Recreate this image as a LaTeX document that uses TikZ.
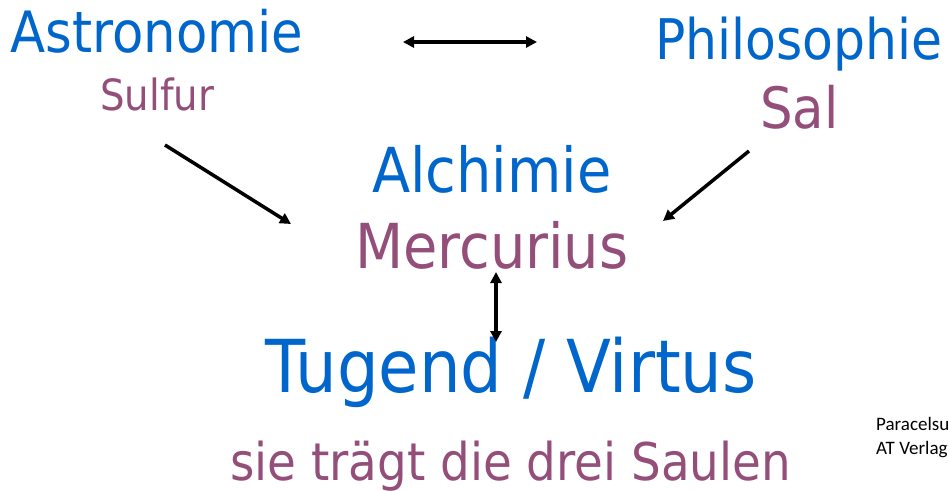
\documentclass[tikz,border=0pt]{standalone}
\usepackage{fontspec}
\setmainfont{DejaVu Sans}[FakeStretch=0.9]
\newfontfamily\calibri{Carlito}
\usetikzlibrary{arrows.meta}
\definecolor{vblue}{RGB}{0,102,204}
\definecolor{vpurple}{RGB}{148,78,122}
\tikzset{
  blue text/.style={text=vblue,inner sep=0pt,anchor=base west},
  purple text/.style={text=vpurple,inner sep=0pt,anchor=base west},
  arr/.style={-{Triangle[length=11pt,width=11pt]},line width=3.5pt},
  both arr/.style={{Triangle[length=11pt,width=11pt]}-{Triangle[length=11pt,width=11pt]},line width=3.5pt}
}
\begin{document}
\begin{tikzpicture}[x=1pt,y=-1pt]
      \useasboundingbox (0,0) rectangle (949,490);
      \node[blue text,font=\fontsize{57}{60}\selectfont] (astro) at (10,52) {Astronomie};
      \node[purple text,font=\fontsize{43}{46}\selectfont] (sulfur) at (100,110) {Sulfur};
      \node[blue text,font=\fontsize{56}{60}\selectfont] (philo) at (655,59) {Philosophie};
      \node[purple text,font=\fontsize{57}{60}\selectfont] (sal) at (760,128) {Sal};
      \node[blue text,font=\fontsize{62}{66}\selectfont] (alchi) at (372,192) {Alchimie};
      \node[purple text,font=\fontsize{62}{66}\selectfont] (merc) at (355,268) {Mercurius};
      \node[blue text,font=\fontsize{73}{76}\selectfont] (tugend) at (265,392) {Tugend / Virtus};
      \node[purple text,font=\fontsize{52}{56}\selectfont] (saulen) at (230,480) {sie trägt die drei Saulen};
      \node[inner sep=0pt,anchor=base west,align=left,font=\calibri\fontsize{19}{24}\selectfont] (quelle) at (876,454) {Paracelsus\\AT Verlag};
      \coordinate (h1) at (403,42);
      \coordinate (h2) at (537,42);
      \coordinate (l1) at (165,145);
      \coordinate (l2) at (291,224);
      \coordinate (r1) at (749,151);
      \coordinate (r2) at (663,221);
      \coordinate (v1) at (496,272);
      \coordinate (v2) at (496,342);
      \draw[both arr] (h1) -- (h2);
      \draw[arr] (l1) -- (l2);
      \draw[arr] (r1) -- (r2);
      \draw[both arr] (v1) -- (v2);
    \end{tikzpicture}
\end{document}
